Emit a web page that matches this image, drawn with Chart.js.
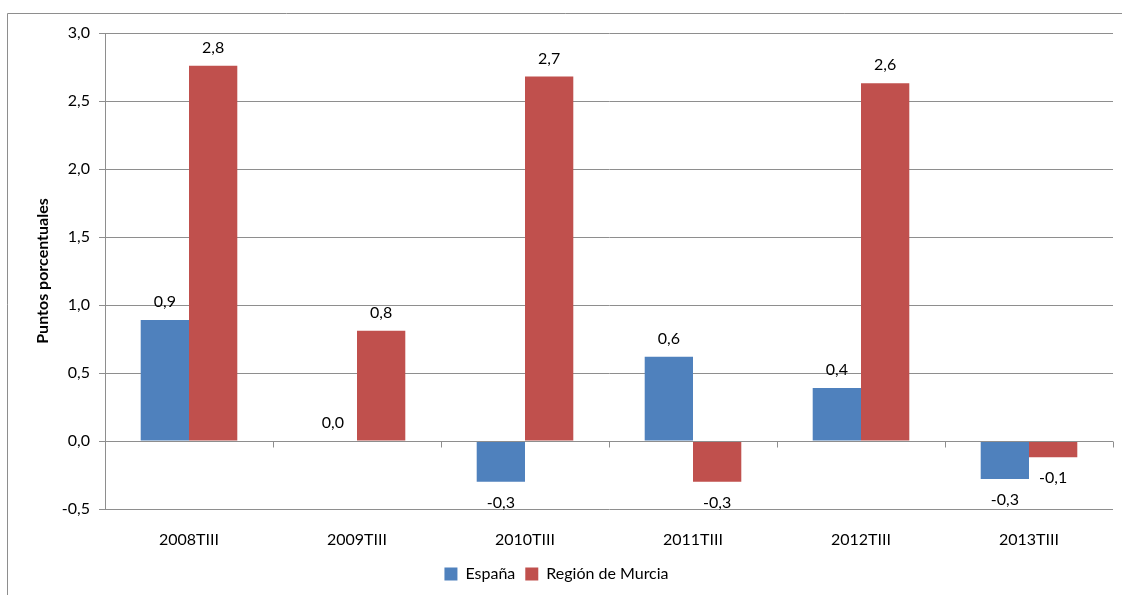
<!DOCTYPE html>
<html lang="es">
<head>
    <meta charset="UTF-8">
    <title>Puntos porcentuales</title>
    <script src="https://cdn.jsdelivr.net/npm/chart.js"></script>
    <style>
        html, body { margin: 0; padding: 0; background: #fff; }
        #wrap { position: relative; width: 1122px; height: 595px; }
    </style>
</head>
<body>
    <div id="wrap"><canvas id="barChart"></canvas></div>
    <script>
        const categories = ['2008TIII', '2009TIII', '2010TIII', '2011TIII', '2012TIII', '2013TIII'];
        const espana = [0.89, 0.0, -0.30, 0.62, 0.39, -0.28];
        const murcia = [2.76, 0.81, 2.68, -0.30, 2.63, -0.12];
        const yTicks = [-0.5, 0, 0.5, 1.0, 1.5, 2.0, 2.5, 3.0];

        const FONT = 'Lato, "Open Sans", sans-serif';
        const GRID = '#8e8e8e';

        function fmt(v) {
            return v.toFixed(1).replace('.', ',');
        }

        // frame around the chart, zero line with category ticks, value labels
        const extras = {
            id: 'extras',
            beforeDraw(chart) {
                const ctx = chart.ctx;
                ctx.save();
                ctx.strokeStyle = GRID;
                ctx.lineWidth = 1;
                ctx.beginPath();
                ctx.moveTo(7.5, 700);
                ctx.lineTo(7.5, 13.5);
                ctx.lineTo(1130, 13.5);
                ctx.stroke();
                ctx.restore();
            },
            afterDatasetsDraw(chart) {
                const ctx = chart.ctx;
                const x = chart.scales.x, y = chart.scales.y;
                const y0 = Math.round(y.getPixelForValue(0)) + 0.5;
                ctx.save();
                ctx.strokeStyle = GRID;
                ctx.lineWidth = 1;
                ctx.beginPath();
                ctx.moveTo(chart.chartArea.left, y0);
                ctx.lineTo(chart.chartArea.right, y0);
                for (let i = 1; i <= categories.length; i++) {
                    const px = Math.round(x.getPixelForValue(i - 0.5)) + 0.5;
                    ctx.moveTo(px, y0);
                    ctx.lineTo(px, y0 + 6);
                }
                ctx.stroke();

                ctx.fillStyle = '#000';
                ctx.font = '16px ' + FONT;
                ctx.textAlign = 'center';
                ctx.textBaseline = 'middle';
                chart.data.datasets.forEach((ds, di) => {
                    const meta = chart.getDatasetMeta(di);
                    meta.data.forEach((bar, i) => {
                        const v = ds.data[i];
                        const ty = v >= 0 ? bar.y - 18 : bar.y + 21;
                        ctx.fillText(fmt(v), bar.x, ty);
                    });
                });
                ctx.restore();
            }
        };

        new Chart(document.getElementById('barChart'), {
            type: 'bar',
            data: {
                labels: categories,
                datasets: [
                    {
                        label: 'España',
                        data: espana,
                        backgroundColor: '#4F81BD',
                        borderWidth: 0
                    },
                    {
                        label: 'Región de Murcia',
                        data: murcia,
                        backgroundColor: '#C0504D',
                        borderWidth: 0
                    }
                ]
            },
            options: {
                responsive: true,
                maintainAspectRatio: false,
                animation: false,
                layout: { padding: { left: 0, top: 33, right: 9, bottom: 3 } },
                datasets: { bar: { categoryPercentage: 0.575, barPercentage: 1.0 } },
                plugins: {
                    legend: {
                        position: 'bottom',
                        labels: {
                            font: { family: FONT, size: 16 },
                            color: '#000',
                            boxWidth: 13,
                            boxHeight: 13,
                            padding: 10
                        }
                    },
                    tooltip: { enabled: false }
                },
                scales: {
                    x: {
                        grid: { display: false },
                        border: { display: false },
                        ticks: {
                            font: { family: FONT, size: 16 },
                            color: '#000',
                            padding: 13,
                            maxRotation: 0
                        },
                        afterFit(scale) { scale.height = 47; }
                    },
                    y: {
                        min: -0.5,
                        max: 3.0,
                        afterBuildTicks(scale) {
                            scale.ticks = yTicks.map(v => ({ value: v }));
                        },
                        grid: {
                            color: GRID,
                            lineWidth: 1,
                            tickLength: 6
                        },
                        border: { color: GRID, width: 1 },
                        ticks: {
                            font: { family: FONT, size: 16 },
                            color: '#000',
                            padding: 9,
                            callback: v => fmt(v)
                        },
                        title: {
                            display: true,
                            text: 'Puntos porcentuales',
                            font: { family: FONT, size: 16, weight: 'bold' },
                            color: '#000',
                            padding: { top: 33, bottom: 0 }
                        },
                        afterFit(scale) { scale.width = 105; }
                    }
                }
            },
            plugins: [extras]
        });
    </script>
</body>
</html>
